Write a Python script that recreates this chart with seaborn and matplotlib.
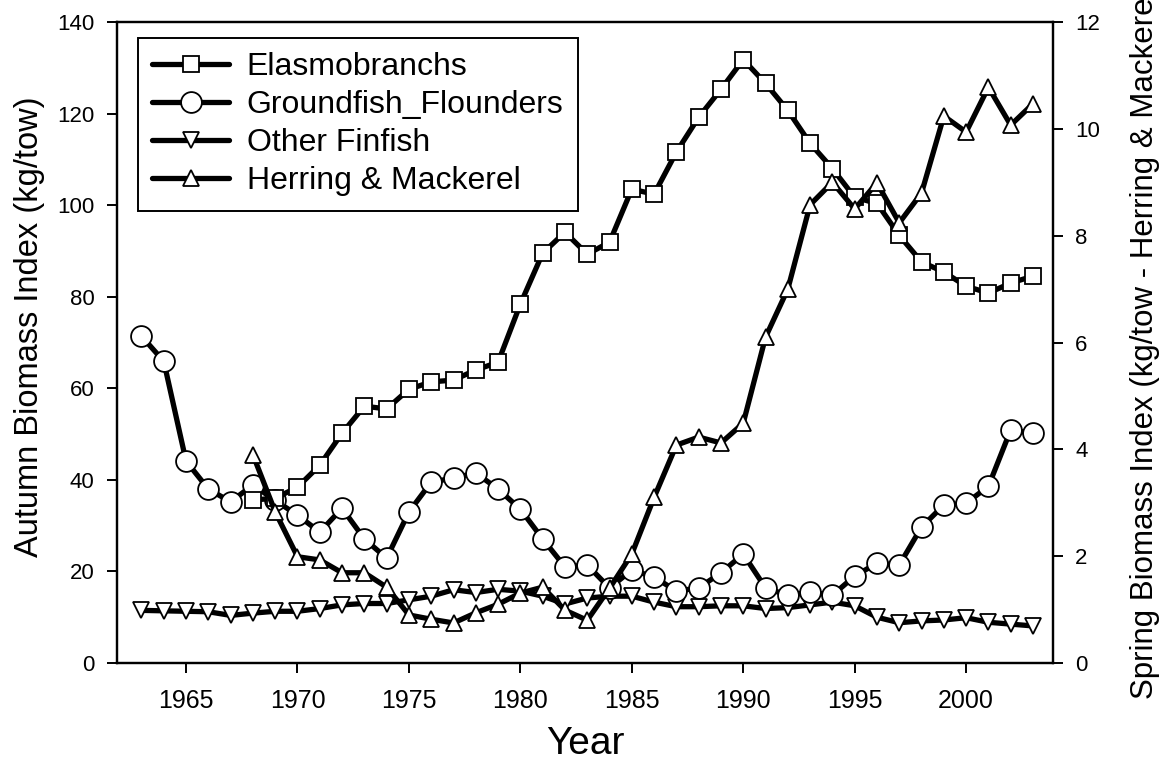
import numpy as np
import pandas as pd
import matplotlib
matplotlib.use("Agg")
import matplotlib.pyplot as plt
import seaborn as sns

# ── Data ────────────────────────────────────────────────────────────────────
years = list(range(1963, 2004))
years_late = list(range(1968, 2004))

elasmobranchs = [35.6, 36.0, 38.4, 43.2, 50.2, 56.1, 55.5, 59.8, 61.4, 61.8,
                 64.0, 65.7, 78.4, 89.5, 94.1, 89.3, 91.9, 103.5, 102.4, 111.6,
                 119.2, 125.3, 131.8, 126.6, 120.7, 113.5, 108.0, 101.7, 100.4, 93.4,
                 87.6, 85.4, 82.3, 80.8, 83.0, 84.5]

groundfish = [71.4, 65.9, 44.1, 38.0, 35.2, 38.9, 35.5, 32.3, 28.6, 33.8,
              27.1, 22.9, 33.0, 39.5, 40.4, 41.5, 38.0, 33.6, 27.1, 21.0,
              21.4, 16.4, 20.3, 18.8, 15.7, 16.4, 19.7, 23.8, 16.4, 14.8,
              15.5, 14.8, 19.0, 21.8, 21.4, 29.7, 34.5, 34.9, 38.6, 50.9,
              50.2]

other_finfish = [11.5, 11.4, 11.3, 11.2, 10.4, 10.9, 11.3, 11.3, 11.9, 12.7,
                 13.0, 13.0, 13.8, 14.6, 16.0, 15.4, 16.1, 15.7, 14.6, 12.9,
                 14.2, 14.6, 14.6, 13.3, 12.3, 12.3, 12.5, 12.5, 11.9, 12.1,
                 12.7, 13.3, 12.5, 10.0, 8.8, 9.2, 9.4, 9.9, 8.9, 8.5,
                 8.1]

herring_mackerel = [3.9, 2.83, 1.99, 1.93, 1.69, 1.69, 1.42, 0.9, 0.82, 0.75,
                    0.94, 1.1, 1.31, 1.42, 0.99, 0.8, 1.4, 2.04, 3.1, 4.08,
                    4.23, 4.12, 4.49, 6.1, 7.0, 8.58, 9.0, 8.5, 8.99, 8.24,
                    8.8, 10.24, 9.94, 10.78, 10.07, 10.47]

left_ticks = [0, 20, 40, 60, 80, 100, 120, 140]
right_ticks = [0, 2, 4, 6, 8, 10, 12]
x_ticks = [1965, 1970, 1975, 1980, 1985, 1990, 1995, 2000]

sns.set_style("ticks")
plt.rcParams['font.family'] = ['Liberation Sans', 'DejaVu Sans']
plt.rcParams['text.color'] = 'black'
plt.rcParams['axes.labelcolor'] = 'black'

LW = 3.8
common = dict(color="black", linewidth=LW, markerfacecolor="white",
              markeredgecolor="black", markeredgewidth=1.3)

fig = plt.figure(figsize=(11.65, 7.65), dpi=100)
ax = fig.add_axes([0.1004, 0.1333, 0.8035, 0.8379])
ax2 = ax.twinx()

df_e = pd.DataFrame({"year": years_late, "val": elasmobranchs})
df_g = pd.DataFrame({"year": years, "val": groundfish})
df_o = pd.DataFrame({"year": years, "val": other_finfish})
df_h = pd.DataFrame({"year": years_late, "val": herring_mackerel})

sns.lineplot(data=df_o, x="year", y="val", ax=ax, marker="v", markersize=12,
             label="Other Finfish", legend=False, **common)
sns.lineplot(data=df_g, x="year", y="val", ax=ax, marker="o", markersize=15,
             label="Groundfish_Flounders", legend=False, **common)
sns.lineplot(data=df_e, x="year", y="val", ax=ax, marker="s", markersize=12,
             label="Elasmobranchs", legend=False, **common)
sns.lineplot(data=df_h, x="year", y="val", ax=ax2, marker="^", markersize=12,
             label="Herring & Mackerel", legend=False, **common)

ax.set_xlim(1961.9, 2003.9)
ax.set_ylim(0, 140)
ax2.set_ylim(0, 12)
ax.set_xticks(x_ticks)
ax.set_yticks(left_ticks)
ax2.set_yticks(right_ticks)

for a in (ax, ax2):
    for s in a.spines.values():
        s.set_linewidth(1.6)
        s.set_color("black")
    a.tick_params(direction="out", length=7, width=1.4, labelsize=16,
                  colors="black", pad=9)
ax.tick_params(axis="x", labelsize=18, pad=12)

ax.set_xlabel("Year", fontsize=28, labelpad=9)
ax.set_ylabel("Autumn Biomass Index (kg/tow)", fontsize=23.5)
ax.yaxis.set_label_coords(-0.077, 0.525)
ax2.set_ylabel("Spring Biomass Index (kg/tow - Herring & Mackerel)",
               fontsize=22.5)
ax2.yaxis.set_label_coords(1.0823, 0.505)

# legend combining both axes, in the order of the original
h1, l1 = ax.get_legend_handles_labels()
h2, l2 = ax2.get_legend_handles_labels()
lookup = dict(zip(l1 + l2, h1 + h2))
order = ["Elasmobranchs", "Groundfish_Flounders", "Other Finfish",
         "Herring & Mackerel"]
leg = ax2.legend([lookup[k] for k in order], order, loc="upper left",
                 bbox_to_anchor=(0.0224, 0.975), borderaxespad=0,
                 fontsize=23, frameon=True, fancybox=False,
                 edgecolor="black", handlelength=2.4, labelspacing=0.25,
                 borderpad=0.45, handletextpad=0.55)
leg.get_frame().set_linewidth(1.4)
leg.get_frame().set_alpha(1)

fig.savefig("out.png", dpi=100)
